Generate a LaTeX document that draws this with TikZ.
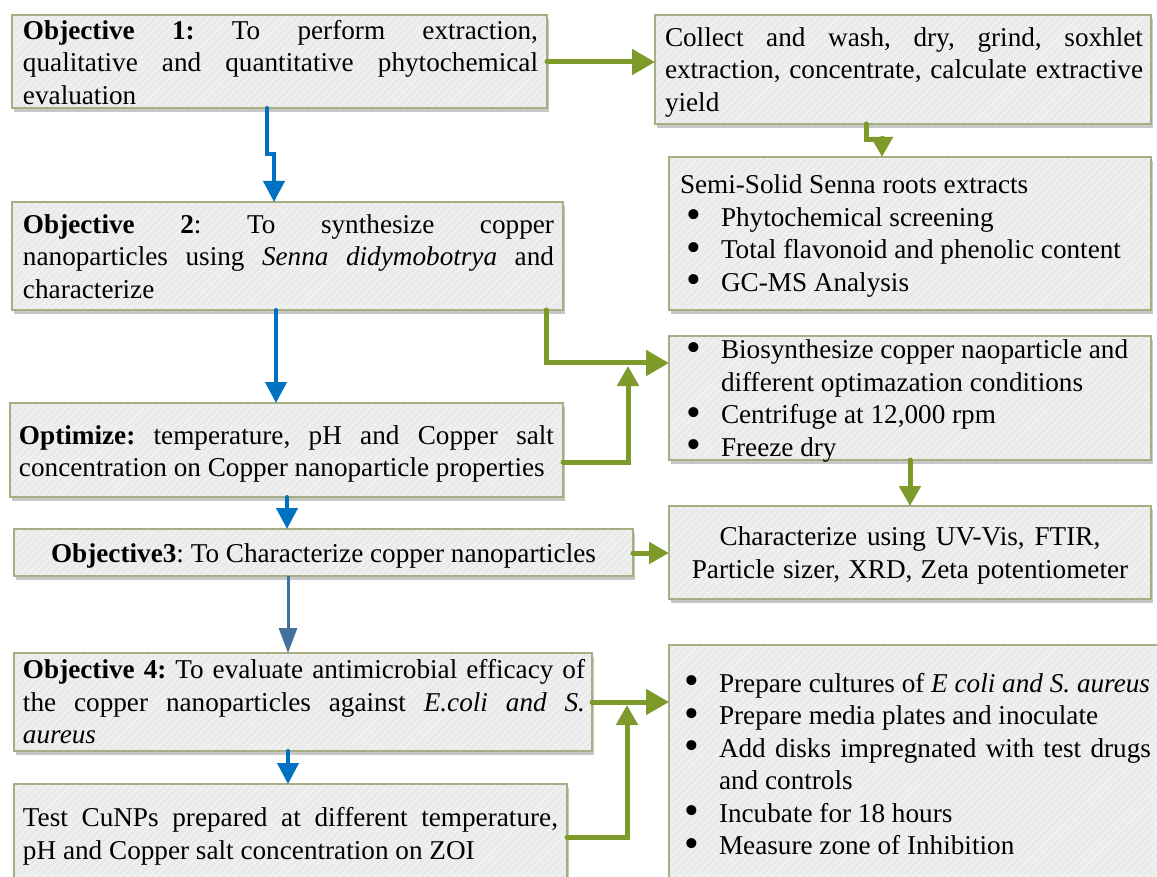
\documentclass[tikz,border=0pt]{standalone}
\usepackage{fontspec}
\setmainfont{Liberation Serif}
\usetikzlibrary{arrows.meta,shadows,patterns.meta}
\definecolor{grn}{RGB}{125,154,43}
\definecolor{blu}{RGB}{0,112,192}
\definecolor{sblu}{RGB}{65,113,156}
\definecolor{bord}{RGB}{165,175,130}
\definecolor{bfill}{RGB}{234,234,234}
\definecolor{bstripe}{RGB}{244,244,244}
\newcommand{\fixsp}{\frenchspacing\spaceskip=0pt\xspaceskip=0pt\relax}
\newcommand{\itemdot}{\makebox[35pt][l]{\smash{\raisebox{-2.5pt}{\fontsize{42}{42}\selectfont\textbullet}}}}
\newcommand{\jline}[2]{\makebox[#1][s]{\fixsp #2}}
\tikzset{
  box/.style={draw=bord, line width=1.5pt, inner sep=0pt, outer sep=0pt, anchor=north west,
    drop shadow={shadow xshift=2pt, shadow yshift=-4pt, opacity=0.22, fill=black},
    preaction={fill=bfill},
    pattern={Lines[angle=45,distance=5pt,line width=1.2pt]}, pattern color=bstripe},
  txt/.style={inner sep=0pt, outer sep=0pt, anchor=base west, align=left,
    font=\fontsize{27.2}{32.5}\selectfont},
  garr/.style={draw=grn, line width=5pt, line cap=round, -{Triangle[length=23pt,width=25pt]}},
  garrs/.style={draw=grn, line width=5pt, line cap=round, -{Triangle[length=20pt,width=21pt]}},
  barr/.style={draw=blu, line width=4pt, line cap=round, -{Triangle[length=21pt,width=21pt]}},
  sarr/.style={draw=sblu, line width=3pt, -{Triangle[length=25pt,width=18pt]}}
}
\begin{document}
\begin{tikzpicture}[x=1pt,y=-1pt]
\useasboundingbox[fill=white] (0,0) rectangle (1157,877);
% boxes
\node[box, minimum width=535pt, minimum height=93pt]  (o1)      at (12,15)   {};
\node[box, minimum width=496pt, minimum height=109pt] (collect) at (655,15)  {};
\node[box, minimum width=482pt, minimum height=153pt] (semi)    at (669,157) {};
\node[box, minimum width=551pt, minimum height=108pt] (o2)      at (12,202)  {};
\node[box, minimum width=482pt, minimum height=124pt] (bio)     at (669,336) {};
\node[box, minimum width=553pt, minimum height=94pt]  (opt)     at (10,403)  {};
\node[box, minimum width=482pt, minimum height=93pt]  (char)    at (669,506) {};
\node[box, minimum width=619pt, minimum height=47pt]  (o3)      at (14,529)  {};
\node[box, minimum width=578pt, minimum height=98pt]  (o4)      at (14,653)  {};
\node[box, minimum width=500pt, minimum height=260pt] (prep)    at (669,645) {};
\node[box, minimum width=553pt, minimum height=110pt] (test)    at (14,784)  {};
% texts
\node[txt, text width=515pt] (o1t) at (23,39.5) {\fixsp
\jline{515pt}{\textbf{Objective 1:} To perform extraction,}\\
\jline{515pt}{qualitative and quantitative phytochemical}\\
evaluation};
\node[txt, text width=478pt] (collectt) at (665,46.5) {\fixsp
\jline{478pt}{Collect and wash, dry, grind, soxhlet}\\
\jline{478pt}{extraction, concentrate, calculate extractive}\\
yield};
\node[txt, text width=465pt] (semit) at (680,194) {\fixsp
Semi-Solid Senna roots extracts\\
\hspace*{6pt}\itemdot Phytochemical screening\\
\hspace*{6pt}\itemdot Total flavonoid and phenolic content\\
\hspace*{6pt}\itemdot GC-MS Analysis};
\node[txt, text width=531pt] (o2t) at (23,233.5) {\fixsp
\jline{531pt}{\textbf{Objective 2}: To synthesize copper}\\
\jline{531pt}{nanoparticles using \textit{Senna didymobotrya} and}\\
characterize};
\node[txt, text width=460pt] (biot) at (686,359) {\fixsp
\itemdot Biosynthesize copper naoparticle and\\
\hspace*{35pt}different optimazation conditions\\
\itemdot Centrifuge at 12,000 rpm\\
\itemdot Freeze dry};
\node[txt, text width=535pt] (optt) at (19,444) {\fixsp
\jline{535pt}{\textbf{Optimize:} temperature, pH and Copper salt}\\
concentration on Copper nanoparticle properties};
\node[txt, text width=480pt, align=center, anchor=base] (chart) at (910,545.5) {\fixsp
Characterize using UV-Vis, FTIR,\\
Particle sizer, XRD, Zeta potentiometer};
\node[txt, anchor=base] (o3t) at (323.5,562) {\fixsp\textbf{Objective3}: To Characterize copper nanoparticles};
\node[txt, text width=562pt] (o4t) at (23,678.5) {\fixsp
\jline{562pt}{\textbf{Objective 4:} To evaluate antimicrobial efficacy of}\\
\jline{562pt}{the copper nanoparticles against \textit{E.coli and S.}}\\
\textit{aureus}};
\node[txt, text width=480pt] (prept) at (684,692) {\fixsp
\itemdot Prepare cultures of \textit{E coli and S. aureus}\\
\itemdot Prepare media plates and inoculate\\
\itemdot \jline{432pt}{Add disks impregnated with test drugs}\\
\hspace*{35pt}and controls\\
\itemdot Incubate for 18 hours\\
\itemdot Measure zone of Inhibition};
\node[txt, text width=535pt] (testt) at (23,826.5) {\fixsp
\jline{535pt}{Test CuNPs prepared at different temperature,}\\
pH and Copper salt concentration on ZOI};
% junction points
\coordinate (j1) at (628,366);
\coordinate (j2) at (627,705);
% connectors
\draw[garr] (o1.east |- 0,62) -- (collect.west |- 0,62);
\draw[garrs] (collect.south -| 866,0) -- (866,140) -- (882,140) -- (semi.north -| 882,0);
\draw[barr] (o1.south -| 267,0) -- (267,154) -- (274,154) -- (o2.north -| 274,0);
\draw[barr] (o2.south -| 276,0) -- (opt.north -| 276,0);
\draw[garr] (o2.south -| 546,0) |- (bio.west |- 0,363);
\draw[garrs] (opt.east |- 0,462) -| (j1);
\draw[garrs] (bio.south -| 910,0) -- (char.north -| 910,0);
\draw[barr] (opt.south -| 287,0) -- (o3.north -| 287,0);
\draw[garrs] (o3.east |- 0,553) -- (char.west |- 0,553);
\draw[sarr] (o3.south -| 288,0) -- (o4.north -| 288,0);
\draw[garr] (o4.east |- 0,702) -- (prep.west |- 0,702);
\draw[barr] (o4.south -| 288,0) -- (test.north -| 288,0);
\draw[garrs] (test.east |- 0,837) -| (j2);
\end{tikzpicture}
\end{document}
